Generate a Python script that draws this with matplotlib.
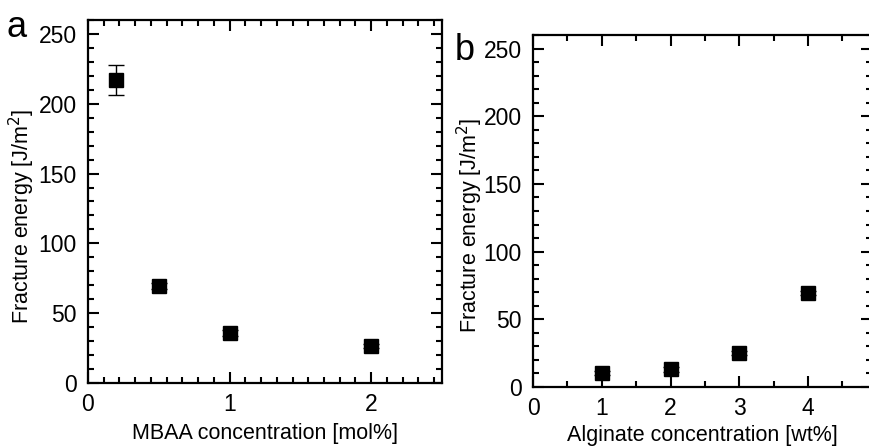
import numpy as np
import matplotlib.pyplot as plt
from matplotlib.ticker import MultipleLocator, AutoMinorLocator

plt.rcParams['font.family'] = ['Liberation Sans', 'DejaVu Sans']

# panel a: fracture energy vs MBAA
mbaa = [0.2, 0.5, 1.0, 2.0]
energy_a = [217, 69.5, 36, 26.5]
err_a = [11, 2, 2, 1.5]

# panel b: fracture energy vs alginate
alginate = [1, 2, 3, 4]
energy_b = [10.4, 13, 25, 69.5]
err_b = [1.5, 2, 1.5, 1.5]

W, H = 870, 446
fig = plt.figure(figsize=(W / 100, H / 100), dpi=100)


def px_axes(left, top, right, bottom):
    return fig.add_axes([left / W, 1 - bottom / H, (right - left) / W, (bottom - top) / H])


def style(ax, label_x):
    for s in ax.spines.values():
        s.set_linewidth(1.6)
    ax.tick_params(which='both', direction='in', top=True, right=True,
                   labelsize=16.5, width=1.5)
    ax.tick_params(axis='y', pad=8)
    ax.tick_params(axis='x', pad=7)
    ax.tick_params(which='major', length=8)
    ax.tick_params(which='minor', length=4)
    ax.yaxis.set_major_locator(MultipleLocator(50))
    ax.yaxis.set_minor_locator(MultipleLocator(10))
    ax.set_ylim(0, 260)
    ax.set_ylabel('Fracture energy [J/m$^2$]', fontsize=15.5)
    ax.yaxis.set_label_coords(label_x, 0.46)


ax1 = px_axes(88, 20, 442, 383)
ax1.errorbar(mbaa, energy_a, yerr=err_a, fmt='s', color='black', ms=10,
             elinewidth=1, capsize=6, capthick=1)
ax1.set_xlim(0, 2.5)
ax1.xaxis.set_major_locator(MultipleLocator(1))
ax1.xaxis.set_minor_locator(AutoMinorLocator(9))
style(ax1, -0.143)
ax1.set_xlabel('MBAA concentration [mol%]', fontsize=15.5, labelpad=5)

ax2 = px_axes(533, 35, 872, 387)
ax2.errorbar(alginate, energy_b, yerr=err_b, fmt='s', color='black', ms=10,
             elinewidth=1, capsize=6, capthick=1)
ax2.set_xlim(0, 4.93)
ax2.xaxis.set_major_locator(MultipleLocator(1))
ax2.xaxis.set_minor_locator(MultipleLocator(0.5))
style(ax2, -0.143)
ax2.set_xlabel('Alginate concentration [wt%]', fontsize=15.5, labelpad=4)

fig.text(17 / W, 1 - 37 / H, 'a', fontsize=26, ha='center', va='baseline')
fig.text(465 / W, 1 - 60 / H, 'b', fontsize=26, ha='center', va='baseline')

fig.savefig('out.png', dpi=100)
